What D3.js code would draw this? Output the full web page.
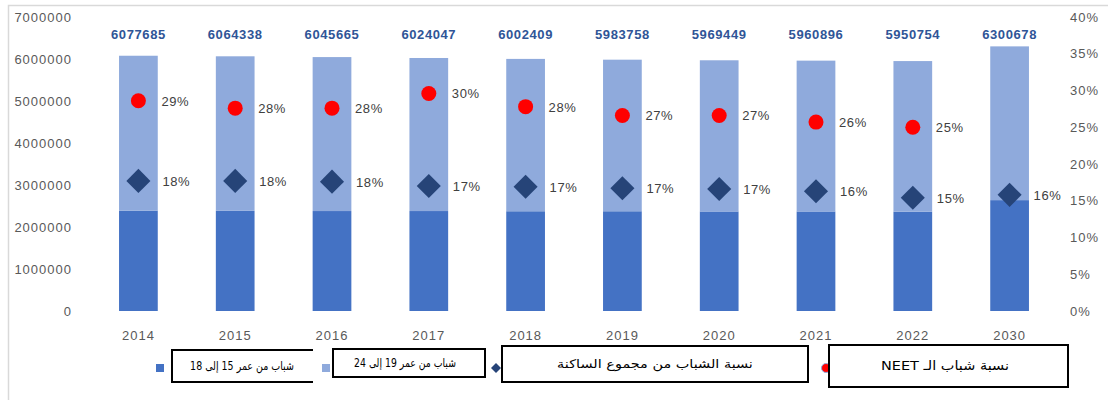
<!DOCTYPE html>
<html>
<head>
<meta charset="utf-8">
<script src="https://cdn.jsdelivr.net/npm/d3@7"></script>
<style>
  html, body { margin: 0; padding: 0; background: #fff; }
  svg { display: block; }
</style>
</head>
<body>
<svg id="chart" width="1108" height="400"></svg>
<script>
// ---- Data ----
const years = ["2014", "2015", "2016", "2017", "2018", "2019", "2020", "2021", "2022", "2030"];
const totals = [6077685, 6064338, 6045665, 6024047, 6002409, 5983758, 5969449, 5960896, 5950754, 6300678];
const youth15to18 = [2390000, 2385000, 2380000, 2380000, 2375000, 2375000, 2370000, 2370000, 2365000, 2640000];
const youth19to24 = [3687685, 3679338, 3665665, 3644047, 3627409, 3608758, 3599449, 3590896, 3585754, 3660678];
const youthShare = [0.177, 0.177, 0.176, 0.170, 0.169, 0.167, 0.166, 0.163, 0.154, 0.158];
const neetShare = [0.286, 0.276, 0.276, 0.296, 0.278, 0.266, 0.266, 0.257, 0.250, null];
const leftTicks = [0, 1000000, 2000000, 3000000, 4000000, 5000000, 6000000, 7000000];
const rightTicks = [0, 0.05, 0.10, 0.15, 0.20, 0.25, 0.30, 0.35, 0.40];
const legendLabels = [
  "شباب من عمر 15 إلى 18",
  "شباب من عمر 19 إلى 24",
  "نسبة الشباب من مجموع الساكنة",
  "نسبة شباب الـ NEET"
];

// ---- Colours ----
const cDark = "#4472C4", cLight = "#8FAADC", cRed = "#FF0000", cDiamond = "#264478";
const cAxis = "#595959", cLabel = "#2F5597";

const svg = d3.select("#chart");
const font = "'Liberation Sans', Arial, sans-serif";

// chart border
svg.append("rect").attr("x", 8.5).attr("y", 5.5).attr("width", 1120).attr("height", 420)
  .attr("fill", "none").attr("stroke", "#D9D9D9").attr("stroke-width", 1.5);

const x = d3.scaleBand().domain(years).range([90, 1058]).paddingInner(0.6).paddingOuter(0.3);
const y = d3.scaleLinear().domain([0, 7000000]).range([311, 17]);
const yR = d3.scaleLinear().domain([0, 0.4]).range([311, 17]);

// stacked bars
const rows = years.map((yr, i) => ({ year: yr, a: youth15to18[i], b: youth19to24[i] }));
const stack = d3.stack().keys(["a", "b"])(rows);
const colors = { a: cDark, b: cLight };
svg.append("g").selectAll("g").data(stack).join("g")
  .attr("fill", d => colors[d.key])
  .selectAll("rect").data(d => d).join("rect")
  .attr("x", d => x(d.data.year))
  .attr("width", x.bandwidth())
  .attr("y", d => y(d[1]))
  .attr("height", d => y(d[0]) - y(d[1]));

// axes
const axL = svg.append("g").attr("transform", "translate(76,0)")
  .call(d3.axisLeft(y).tickValues(leftTicks).tickSize(0).tickPadding(4).tickFormat(d3.format("d")));
const axR = svg.append("g").attr("transform", "translate(1066,0)")
  .call(d3.axisRight(yR).tickValues(rightTicks).tickSize(0).tickPadding(4).tickFormat(d3.format(".0%")));
const axB = svg.append("g").attr("transform", "translate(0,311)")
  .call(d3.axisBottom(x).tickSize(0).tickPadding(20));
[axL, axR, axB].forEach(g => {
  g.select(".domain").remove();
  g.selectAll("text").attr("fill", cAxis).style("font-family", font)
    .style("font-size", "13px").style("letter-spacing", "1px");
});

// total labels
svg.append("g").selectAll("text").data(years).join("text")
  .attr("x", d => x(d) + x.bandwidth() / 2)
  .attr("y", y(6480000))
  .attr("text-anchor", "middle")
  .attr("fill", cLabel)
  .style("font-family", font).style("font-size", "13px").style("font-weight", "bold")
  .style("letter-spacing", "0.6px")
  .text((d, i) => totals[i]);

const pct = d3.format(".0%");
const cx = d => x(d) + x.bandwidth() / 2;

// youth share diamonds
const diamond = d3.symbol(d3.symbolSquare).size(290);
svg.append("g").selectAll("path").data(years).join("path")
  .attr("d", diamond)
  .attr("transform", (d, i) => `translate(${cx(d)},${yR(youthShare[i])}) rotate(45)`)
  .attr("fill", cDiamond);
svg.append("g").selectAll("text").data(years).join("text")
  .attr("x", d => cx(d) + 24)
  .attr("y", (d, i) => yR(youthShare[i]) + 5)
  .attr("fill", "#404040")
  .style("font-family", font).style("font-size", "13px").style("letter-spacing", "0.6px")
  .text((d, i) => pct(youthShare[i]));

// NEET circles
const neetRows = years.map((yr, i) => ({ year: yr, v: neetShare[i] })).filter(d => d.v != null);
svg.append("g").selectAll("circle").data(neetRows).join("circle")
  .attr("cx", d => cx(d.year))
  .attr("cy", d => yR(d.v))
  .attr("r", 7.5)
  .attr("fill", cRed);
svg.append("g").selectAll("text").data(neetRows).join("text")
  .attr("x", d => cx(d.year) + 23)
  .attr("y", d => yR(d.v) + 5)
  .attr("fill", "#404040")
  .style("font-family", font).style("font-size", "13px").style("letter-spacing", "0.6px")
  .text(d => pct(d.v));

// ---- Legend ----
const lg = svg.append("g");
lg.append("rect").attr("x", 156).attr("y", 364).attr("width", 8).attr("height", 8).attr("fill", cDark);
lg.append("rect").attr("x", 322).attr("y", 364).attr("width", 8).attr("height", 8).attr("fill", cLight);
lg.append("path").attr("d", d3.symbol(d3.symbolSquare).size(50))
  .attr("transform", "translate(496,368) rotate(45)").attr("fill", cDiamond);
lg.append("circle").attr("cx", 826).attr("cy", 368).attr("r", 4.5).attr("fill", cRed)
  .attr("stroke", "#8FAADC").attr("stroke-width", 1);

// boxes over the legend (text centre cx and target width tw)
const boxes = [
  { x: 172, y: 350, w: 141, h: 32, open: true, cx: 242, tw: 104 },
  { x: 333, y: 349, w: 152, h: 28, cx: 405, tw: 102 },
  { x: 502, y: 346, w: 306, h: 36, cx: 655, tw: 196 },
  { x: 829, y: 345, w: 239, h: 42, cx: 945, tw: 128 }
];
boxes.forEach((b, i) => {
  if (b.open) {
    lg.append("path")
      .attr("d", `M${b.x + b.w},${b.y}H${b.x}V${b.y + b.h}H${b.x + b.w}`)
      .attr("fill", "#fff").attr("stroke", "#000").attr("stroke-width", 2);
  } else {
    lg.append("rect").attr("x", b.x).attr("y", b.y).attr("width", b.w).attr("height", b.h)
      .attr("fill", "#fff").attr("stroke", "#000").attr("stroke-width", 2);
  }
  const t = lg.append("text")
    .attr("x", 0).attr("y", 0)
    .attr("text-anchor", "middle")
    .attr("direction", "rtl")
    .attr("fill", "#000")
    .style("font-family", "'DejaVu Sans', sans-serif")
    .style("font-size", i === 3 ? "13px" : "12px")
    .text(legendLabels[i]);
  const w = t.node().getComputedTextLength() || b.tw;
  const sx = b.tw / w;
  t.attr("transform", `translate(${b.cx},${b.y + b.h / 2 + 4}) scale(${sx},1)`);
});
</script>
</body>
</html>
